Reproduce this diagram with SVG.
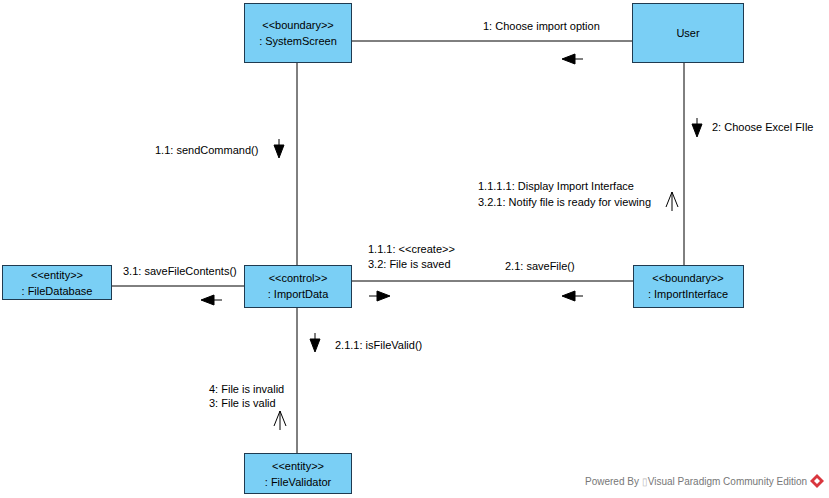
<svg xmlns="http://www.w3.org/2000/svg" width="829" height="498" viewBox="0 0 829 498">
  <style>
    .node { fill: #7ACFF5; stroke: #1F3A50; stroke-width: 1; }
    .lbl { font-family: "Liberation Sans", Arial, sans-serif; font-size: 11px; fill: #000; }
    .nt { font-family: "Liberation Sans", Arial, sans-serif; font-size: 11px; fill: #000; text-anchor: middle; }
    .link { stroke: #000; stroke-width: 1; fill: none; }
    .fill { fill: #000; stroke: #000; stroke-width: 1; }
    .open { fill: none; stroke: #000; stroke-width: 1; }
  </style>
  <rect width="829" height="498" fill="#fff"/>

  <!-- connectors -->
  <g id="connectors">
    <line class="link" x1="351" y1="41" x2="632" y2="41"/>
    <line class="link" x1="297" y1="62" x2="297" y2="265"/>
    <line class="link" x1="684" y1="62" x2="684" y2="265"/>
    <line class="link" x1="111" y1="286" x2="244" y2="286"/>
    <line class="link" x1="351" y1="281" x2="633" y2="281"/>
    <line class="link" x1="297" y1="307" x2="297" y2="453"/>

    <!-- message arrows -->
    <line class="link" x1="572" y1="59" x2="583" y2="59"/>
    <polygon class="fill" points="562,59 575,54 575,64"/>

    <line class="link" x1="279" y1="139" x2="279" y2="148"/>
    <polygon class="fill" points="279,158 274,145 284,145"/>

    <line class="link" x1="697" y1="118" x2="697" y2="127"/>
    <polygon class="fill" points="697,137 692,124 702,124"/>

    <line class="link" x1="672" y1="192" x2="672" y2="211"/>
    <polyline class="open" points="666,207 672,192 678,207"/>

    <line class="link" x1="211" y1="300" x2="222" y2="300"/>
    <polygon class="fill" points="201,300 214,295 214,305"/>

    <line class="link" x1="369" y1="296" x2="380" y2="296"/>
    <polygon class="fill" points="390,296 377,291 377,301"/>

    <line class="link" x1="572" y1="296" x2="583" y2="296"/>
    <polygon class="fill" points="562,296 575,291 575,301"/>

    <line class="link" x1="315" y1="333" x2="315" y2="342"/>
    <polygon class="fill" points="315,352 310,339 320,339"/>

    <line class="link" x1="280" y1="411" x2="280" y2="430"/>
    <polyline class="open" points="274,426 280,411 286,426"/>

    <!-- message labels -->
    <text class="lbl" x="483" y="30">1: Choose import option</text>
    <text class="lbl" x="155" y="154">1.1: sendCommand()</text>
    <text class="lbl" x="712" y="131">2: Choose Excel FIle</text>
    <text class="lbl" x="478" y="190">1.1.1.1: Display Import Interface</text>
    <text class="lbl" x="478" y="206">3.2.1: Notify file is ready for viewing</text>
    <text class="lbl" x="123" y="275">3.1: saveFileContents()</text>
    <text class="lbl" x="368" y="253">1.1.1: &lt;&lt;create&gt;&gt;</text>
    <text class="lbl" x="368" y="268">3.2: File is saved</text>
    <text class="lbl" x="505" y="270">2.1: saveFile()</text>
    <text class="lbl" x="335" y="349">2.1.1: isFileValid()</text>
    <text class="lbl" x="209" y="393">4: File is invalid</text>
    <text class="lbl" x="209" y="407">3: File is valid</text>
  </g>

  <!-- nodes -->
  <g id="systemScreen">
    <rect class="node" x="244.5" y="3.5" width="107" height="59"/>
    <text class="nt" x="298" y="29">&lt;&lt;boundary&gt;&gt;</text>
    <text class="nt" x="298" y="45">: SystemScreen</text>
  </g>
  <g id="user">
    <rect class="node" x="632.5" y="3.5" width="111" height="59"/>
    <text class="nt" x="688" y="37">User</text>
  </g>
  <g id="fileDatabase">
    <rect class="node" x="2.5" y="265.5" width="109" height="34"/>
    <text class="nt" x="57" y="279">&lt;&lt;entity&gt;&gt;</text>
    <text class="nt" x="57" y="295">: FileDatabase</text>
  </g>
  <g id="importData">
    <rect class="node" x="244.5" y="265.5" width="107" height="42"/>
    <text class="nt" x="298" y="282">&lt;&lt;control&gt;&gt;</text>
    <text class="nt" x="298" y="298">: ImportData</text>
  </g>
  <g id="importInterface">
    <rect class="node" x="633.5" y="265.5" width="110" height="42"/>
    <text class="nt" x="688" y="282">&lt;&lt;boundary&gt;&gt;</text>
    <text class="nt" x="688" y="298">: ImportInterface</text>
  </g>
  <g id="fileValidator">
    <rect class="node" x="244.5" y="453.5" width="107" height="40"/>
    <text class="nt" x="298" y="470">&lt;&lt;entity&gt;&gt;</text>
    <text class="nt" x="298" y="486">: FileValidator</text>
  </g>

  <!-- footer -->
  <g id="footer">
    <text x="585" y="485" font-family="'Liberation Sans', Arial, sans-serif" font-size="10" fill="#777">Powered By <tspan fill="#bbb">▯</tspan>Visual Paradigm Community Edition</text>
    <polygon points="817,474 824,481 817,488 810,481" fill="#D9363E"/>
    <polygon points="817,478 820,481 817,484 814,481" fill="#fff"/>
  </g>
</svg>
